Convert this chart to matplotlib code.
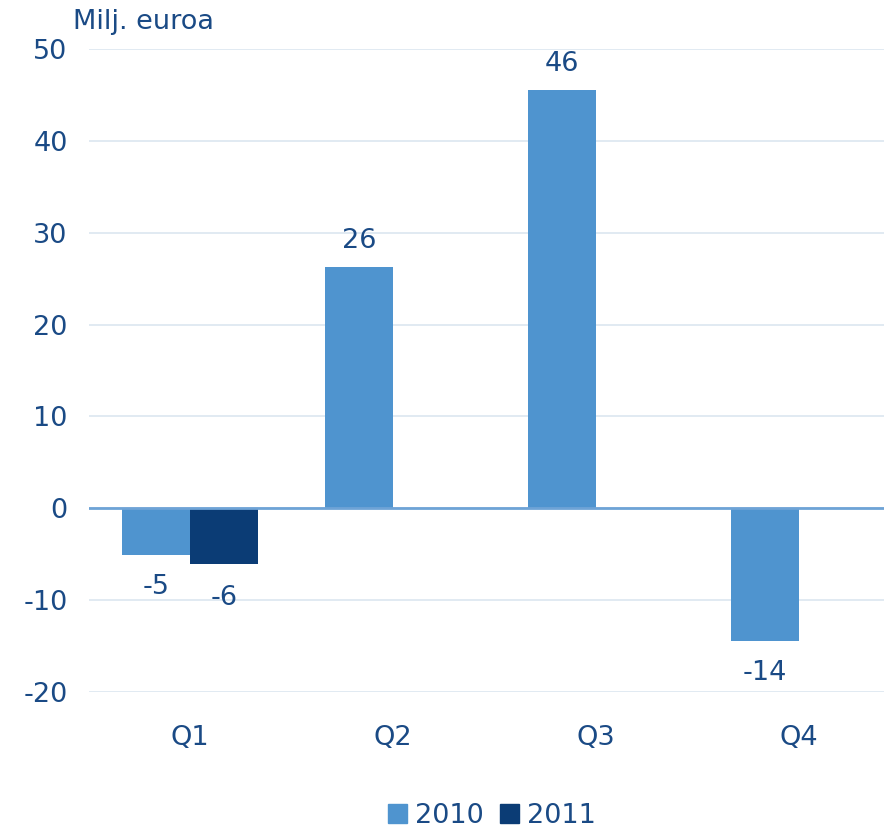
import matplotlib
matplotlib.use("Agg")
import matplotlib.pyplot as plt
import numpy as np

categories = ["Q1", "Q2", "Q3", "Q4"]
series_names = ["2010", "2011"]
values_2010 = [-5.1, 26.3, 45.5, -14.4]
values_2011 = [-6.1, None, None, None]
labels_2010 = ["-5", "26", "46", "-14"]
labels_2011 = ["-6", "", "", ""]
yticks = [-20, -10, 0, 10, 20, 30, 40, 50]
ytick_labels = ["-20", "-10", "0", "10", "20", "30", "40", "50"]

c2010 = "#4F94CF"
c2011 = "#0B3C75"
tcol = "#1A4A85"
fs = 19.5

plt.rcParams['font.family'] = ['DejaVu Sans']

W, H = 884, 831
fig = plt.figure(figsize=(W/100, H/100), dpi=100)
left, right, top, bottom = 88.5, 900.5, 49, 692
ax = fig.add_axes([left/W, 1-bottom/H, (right-left)/W, (bottom-top)/H])
ax.set_xlim(-0.5, 3.5)
ax.set_ylim(-20, 50)

x = np.arange(len(categories))
w = 0.335
for i in range(len(categories)):
    v = values_2010[i]
    ax.bar(x[i]-w/2, v, width=w, color=c2010, zorder=3)
    ypos = v + (1.4 if v >= 0 else -2.1)
    ax.text(x[i]-w/2, ypos, labels_2010[i], ha='center', va='bottom' if v >= 0 else 'top',
            fontsize=fs, color=tcol)
    v2 = values_2011[i]
    if v2 is not None:
        ax.bar(x[i]+w/2, v2, width=w, color=c2011, zorder=3)
        ax.text(x[i]+w/2, v2-2.3, labels_2011[i], ha='center', va='top', fontsize=fs, color=tcol)

ax.set_yticks(yticks)
ax.set_yticklabels(ytick_labels)
ax.set_xticks(x)
ax.set_xticklabels(categories)
ax.tick_params(axis='both', length=0, labelsize=fs, labelcolor=tcol)
ax.tick_params(axis='x', pad=24)
ax.tick_params(axis='y', pad=15)
for s in ax.spines.values():
    s.set_visible(False)
ax.grid(axis='y', color='#DCE6F0', linewidth=1.2, zorder=0)
ax.axhline(0, color='#6EA3D6', linewidth=2, zorder=4)

ax.text(73/W, 1-22/H, "Milj. euroa", transform=fig.transFigure, fontsize=fs, color=tcol,
        ha='left', va='center')

from matplotlib.patches import Patch
handles = [Patch(color=c2010), Patch(color=c2011)]
fig.legend(handles, series_names, loc='center', bbox_to_anchor=(492/W, 1-816/H), ncol=2,
           frameon=False, fontsize=fs, labelcolor=tcol, handlelength=0.7, handleheight=0.7,
           handletextpad=0.3, columnspacing=0.6)

fig.savefig("out.png", dpi=100)
